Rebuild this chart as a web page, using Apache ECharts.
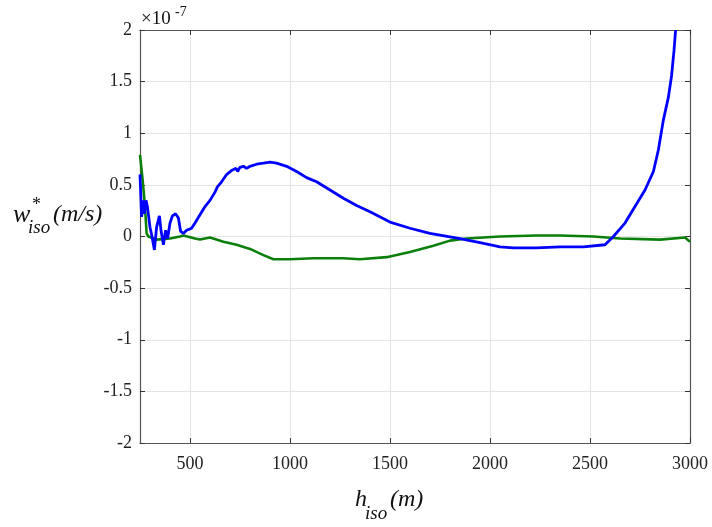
<!DOCTYPE html>
<html>
<head>
<meta charset="utf-8">
<title>w*iso vs h_iso</title>
<script src="https://cdn.jsdelivr.net/npm/echarts@6/dist/echarts.min.js"></script>
<style>
  html, body { margin: 0; padding: 0; background: #fff; }
  #chart { width: 712px; height: 527px; }
</style>
</head>
<body>
<div id="chart"></div>
<script>
// Values are in units of 1e-7 m/s (see the multiplier above the plot)
const xTicks = [500, 1000, 1500, 2000, 2500, 3000];
const yTicks = [-2, -1.5, -1, -0.5, 0, 0.5, 1, 1.5, 2];

const blueH = [250, 258, 267, 272, 280, 287, 300, 310, 322, 333, 347, 355, 367, 378, 388,
  400, 412, 428, 442, 453, 467, 483, 508, 525, 550, 575, 600, 625, 637, 658, 683, 708,
  730, 738, 750, 767, 783, 800, 833, 867, 900, 933, 983, 1033, 1083, 1133, 1200, 1267,
  1333, 1400, 1500, 1600, 1700, 1850, 1950, 2050, 2117, 2233, 2350, 2467, 2575, 2617,
  2675, 2725, 2775, 2817, 2842, 2867, 2892, 2908, 2920, 2928];
const blueW = [0.60, 0.19, 0.35, 0.22, 0.35, 0.29, 0.09, 0.00, -0.13, 0.09, 0.20, 0.06, -0.08, 0.06, -0.02,
  0.13, 0.20, 0.22, 0.18, 0.05, 0.03, 0.06, 0.08, 0.13, 0.21, 0.29, 0.35, 0.43, 0.48, 0.53, 0.60, 0.64,
  0.66, 0.63, 0.67, 0.68, 0.66, 0.68, 0.70, 0.71, 0.72, 0.71, 0.68, 0.63, 0.57, 0.53, 0.45, 0.37,
  0.30, 0.24, 0.14, 0.08, 0.03, -0.02, -0.06, -0.10, -0.11, -0.11, -0.10, -0.10, -0.08, 0.00,
  0.13, 0.29, 0.45, 0.63, 0.84, 1.13, 1.35, 1.56, 1.80, 2.00];

const greenH = [250, 263, 275, 283, 292, 333, 400, 450, 467, 525, 550, 600, 667, 733, 800, 867,
  917, 1000, 1117, 1267, 1350, 1483, 1600, 1717, 1800, 1883, 2050, 2233, 2350, 2517, 2650,
  2850, 2975, 3000];
const greenW = [0.79, 0.55, 0.29, 0.03, 0.00, -0.03, -0.02, 0.00, 0.01, -0.02, -0.03, -0.01, -0.05, -0.08, -0.12, -0.18,
  -0.22, -0.22, -0.21, -0.21, -0.22, -0.20, -0.15, -0.09, -0.04, -0.02, 0.00, 0.01, 0.01, 0.00, -0.02,
  -0.03, -0.01, -0.05];

const pairs = (xs, ys) => xs.map((x, i) => [x, ys[i]]);

const serif = '"Liberation Serif", "DejaVu Serif", serif';
const axisColor = '#555';
const gridColor = '#e4e4e4';

const chart = echarts.init(document.getElementById('chart'), null, { renderer: 'canvas' });

const baseX = {
  type: 'value', min: 250, max: 3000,
  axisLine: { show: true, onZero: false, lineStyle: { color: axisColor, width: 1.2 } },
  axisTick: { show: true, inside: true, length: 5, customValues: xTicks, lineStyle: { color: '#333', width: 1 } },
  splitLine: { show: false }
};
const baseY = {
  type: 'value', min: -2, max: 2, interval: 0.5,
  axisLine: { show: true, onZero: false, lineStyle: { color: axisColor, width: 1.2 } },
  axisTick: { show: true, inside: true, length: 5, lineStyle: { color: '#333', width: 1 } },
  splitLine: { show: false }
};

// text helper: places glyph baseline at `base` (Liberation Serif ascent ~0.77em)
const label = (txt, x, base, size, italic) => ({
  type: 'text', x: x, y: base - Math.round(size * 0.77),
  style: { text: txt, font: (italic ? 'italic ' : '') + size + 'px ' + serif, fill: '#111' }
});

chart.setOption({
  animation: false,
  backgroundColor: '#fff',
  grid: { left: 140, right: 22, top: 30, bottom: 84, containLabel: false },
  xAxis: [
    Object.assign({}, baseX, {
      position: 'bottom',
      axisLabel: { show: true, customValues: xTicks, margin: 12, color: '#222',
        fontFamily: serif, fontSize: 18, formatter: v => String(v) },
      splitLine: { show: true, lineStyle: { color: gridColor, width: 1 } }
    }),
    Object.assign({}, baseX, { position: 'top', axisLabel: { show: false } })
  ],
  yAxis: [
    Object.assign({}, baseY, {
      position: 'left',
      axisLabel: { show: true, margin: 8, color: '#222', fontFamily: serif, fontSize: 18,
        formatter: v => String(v) },
      splitLine: { show: true, lineStyle: { color: gridColor, width: 1 } }
    }),
    Object.assign({}, baseY, { position: 'right', axisLabel: { show: false } })
  ],
  series: [
    {
      type: 'line', xAxisIndex: 0, yAxisIndex: 0, data: pairs(greenH, greenW),
      showSymbol: false, clip: true,
      lineStyle: { color: '#0a800a', width: 2.6 }, z: 3
    },
    {
      type: 'line', xAxisIndex: 0, yAxisIndex: 0, data: pairs(blueH, blueW),
      showSymbol: false, clip: true,
      lineStyle: { color: '#0000ff', width: 2.8 }, z: 4
    }
  ],
  graphic: [
    // axis multiplier
    label('×10', 141, 25, 19, false),
    label('-7', 175, 16, 14, false),
    // y-axis title
    label('w', 13, 222, 26, true),
    label('*', 32, 210, 18, false),
    label('iso', 28, 233, 19, true),
    label('(m/s)', 53, 221, 24, true),
    // x-axis title
    label('h', 355, 506, 24, true),
    label('iso', 365, 519, 19, true),
    label('(m)', 390, 506, 24, true)
  ]
});
</script>
</body>
</html>
